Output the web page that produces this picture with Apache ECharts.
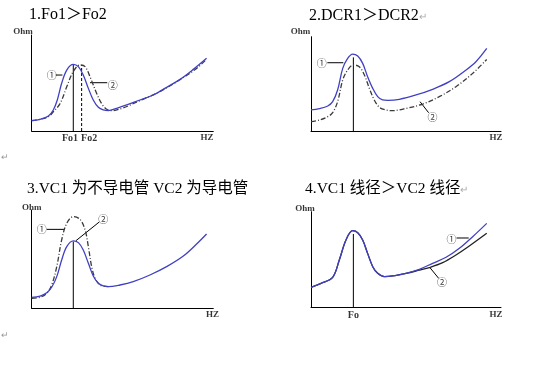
<!DOCTYPE html>
<html>
<head>
<meta charset="utf-8">
<script src="https://cdn.jsdelivr.net/npm/echarts@6/dist/echarts.min.js"></script>
<style>html,body{margin:0;padding:0;background:#fff}#c{width:533px;height:384px}</style>
</head>
<body>
<div id="c"></div>
<script>
// ---------- data (schematic units: x 0..100, y 0..100) ----------
const titles = ['1.Fo1＞Fo2', '2.DCR1＞DCR2', '3.VC1 为不导电管 VC2 为导电管', '4.VC1 线径＞VC2 线径'];

// Panel 1
const p1Curve1 = [[0,10.8],[4.6,12.2],[9.2,15.6],[11.9,21.9],[14.1,32.3],[16.5,49.7],[19.3,63.5],[22.9,69.4],[25.7,67.0],[28.4,58.3],[31.2,44.4],[33.9,32.3],[36.7,24.7],[39.4,21.9],[42.2,21.2],[46.8,23.6],[52.3,27.1],[59.6,32.3],[67.0,37.5],[74.3,45.5],[81.7,53.8],[89.0,64.2],[96.3,75.7]];
const p1Curve2 = [[0,10.8],[4.6,12.2],[9.2,15.0],[11.9,20.0],[15.6,28.5],[19.3,46.0],[22.9,62.0],[26.6,68.8],[29.4,67.0],[32.1,56.6],[35.8,39.0],[38.5,28.5],[41.3,22.6],[44.0,21.2],[50.0,23.8],[60.0,32.0],[70.0,40.5],[80.0,51.5],[90.0,64.0],[96.3,74.7]];
const p1Fo1 = [[22.9,0],[22.9,68.8]];
const p1Fo2 = [[27.5,0],[27.5,68.8]];
const p1Lead1 = [[13.2,58.3],[16.9,58.3]];
const p1Lead2 = [[32.1,50.3],[41.6,50.3]];
const p1Axis = [{name:'Ohm', value:[-4.8,103]}, {name:'HZ', value:[96.5,-7.3]}];
const p1Ticks = [{name:'Fo1', value:[21.1,-7.3]}, {name:'Fo2', value:[31.6,-7.3]}];
const p1Marks = [{name:'①', value:[11.0,58.3]}, {name:'②', value:[44.6,48.0]}];

// Panel 2
const p2Curve1 = [[0,22.3],[4.4,23.7],[8.8,26.5],[11.4,31.1],[14.0,43.5],[16.7,66.4],[19.3,77.0],[21.9,81.6],[24.6,79.5],[27.2,71.7],[29.8,57.6],[32.5,45.2],[35.1,36.4],[37.7,32.9],[40.4,32.5],[46.5,33.6],[55.3,38.2],[64.0,44.2],[72.8,52.3],[81.6,64.7],[86.8,73.5],[92.5,87.6]];
const p2Curve2 = [[0,9.9],[4.4,11.7],[8.8,15.2],[11.4,19.4],[14.0,31.1],[16.7,54.1],[19.3,64.7],[22.3,70.0],[25.4,68.2],[28.1,59.4],[30.7,45.2],[33.3,32.9],[36.0,25.1],[39.5,22.3],[43.0,21.6],[50.0,24.0],[58.8,28.6],[67.5,36.4],[76.3,47.0],[85.1,61.1],[92.5,75.9]];
const p2Fo = [[22.3,0],[22.3,78.1]];
const p2Lead1 = [[8.6,72.4],[17.0,72.4]];
const p2Lead2 = [[61.9,19.4],[57.4,31.1]];
const p2Axis = [{name:'Ohm', value:[-5.5,105]}, {name:'HZ', value:[97.4,-7.4]}];
const p2Ticks = [];
const p2Marks = [{name:'①', value:[5.6,72.4]}, {name:'②', value:[64.0,14.5]}];

// Panel 3
const p3Curve2 = [[0,11.2],[4.6,12.5],[8.3,15.9],[11.0,21.4],[13.8,32.2],[16.5,49.2],[19.3,62.7],[22.9,68.5],[25.7,66.8],[28.4,59.3],[31.2,45.8],[33.9,32.9],[36.7,25.4],[39.4,22.7],[42.2,22.0],[48.6,23.7],[55.9,27.1],[65.1,33.9],[74.3,42.4],[83.5,53.2],[90.8,65.4],[96.3,75.6]];
const p3Curve1 = [[0,10.2],[4.6,11.2],[8.3,15.3],[11.0,23.7],[13.8,42.4],[16.5,69.5],[19.3,86.4],[22.9,93.2],[26.6,90.5],[29.4,79.7],[31.2,62.7],[33.0,42.4],[34.9,30.5],[37.6,23.7],[39.4,22.7],[42.2,22.0]];
const p3Fo = [[22.9,0],[22.9,67.8]];
const p3Lead1 = [[8.3,80.3],[18.3,80.3]];
const p3Lead2 = [[37.2,87.8],[24.4,68.8]];
const p3Axis = [{name:'Ohm', value:[0,102.3]}, {name:'HZ', value:[99.6,-6.8]}];
const p3Ticks = [];
const p3Marks = [{name:'①', value:[5.5,80.3]}, {name:'②', value:[39.4,90.5]}];

// Panel 4
const p4Curve1 = [[0,20.9],[5.3,25.1],[11.4,31.4],[14.9,49.5],[18.4,70.4],[21.9,80.1],[24.6,78.0],[27.2,70.4],[29.8,56.4],[32.5,42.5],[35.1,35.5],[38.6,32.1],[43.0,32.8],[50.0,35.5],[57.0,39.7],[64.0,46.0],[71.1,52.3],[78.1,61.7],[85.1,73.9],[92.5,87.8]];
const p4Curve2 = [[0,20.9],[5.3,25.1],[11.4,31.4],[14.9,49.5],[18.4,70.4],[21.9,80.1],[24.6,78.0],[27.2,70.4],[29.8,56.4],[32.5,42.5],[35.1,35.5],[38.6,32.1],[43.0,32.8],[50.0,35.5],[57.0,38.9],[62.3,41.6],[69.3,46.7],[76.3,54.7],[83.3,64.1],[92.5,77.4]];
const p4Fo = [[22.3,0],[22.3,76.7]];
const p4Lead1 = [[76.6,72.5],[83.0,72.5]];
const p4Lead2 = [[67.2,30.3],[62.6,41.5]];
const p4Axis = [{name:'Ohm', value:[-3.2,103.6]}, {name:'HZ', value:[97.4,-8]}];
const p4Ticks = [{name:'Fo', value:[22.3,-8]}];
const p4Marks = [{name:'①', value:[74.0,71.1]}, {name:'②', value:[69.0,25.8]}];

// ---------- chart ----------
const BLUE = '#4040c4';
const DARK = '#3a3a3a';
const LATIN = "'Liberation Serif','Noto Sans CJK SC',serif";

const grids = [
  {left:31.7, top:35, width:181.6, height:96},
  {left:311, top:36.7, width:190, height:94.3},
  {left:31.7, top:210, width:181.6, height:98.3},
  {left:311, top:211.7, width:190, height:95.6}
];

function axisCfg(i){
  return {gridIndex:i, type:'value', min:0, max:100,
    axisLine:{show:true, onZero:false, lineStyle:{color:'#000', width:1}},
    axisTick:{show:false}, axisLabel:{show:false}, splitLine:{show:false}};
}
function line(i, data, color, type, width, smooth, z){
  return {type:'line', xAxisIndex:i, yAxisIndex:i, data:data, smooth:smooth,
    symbol:'none', clip:false, z:z||2, silent:true,
    lineStyle:{color:color, width:width, type:type}};
}
function texts(i, items, size, family, weight){
  return {type:'scatter', xAxisIndex:i, yAxisIndex:i, data:items, symbolSize:1,
    clip:false, silent:true, itemStyle:{color:'rgba(0,0,0,0)'}, z:5,
    label:{show:true, position:'inside', formatter:'{b}', color:'#000',
      fontSize:size, fontFamily:family, fontWeight:weight||'normal',
      align:'center', verticalAlign:'middle'}};
}

const series = [];
const panels = [
  {c:[[p1Curve2, DARK, [5,2,1,2]], [p1Curve1, BLUE, 'solid']], v:[[p1Fo1,'solid'],[p1Fo2,[3,2]]], l:[p1Lead1,p1Lead2], a:p1Axis, t:p1Ticks, m:p1Marks},
  {c:[[p2Curve2, DARK, [5,2,1,2]], [p2Curve1, BLUE, 'solid']], v:[[p2Fo,'solid']], l:[p2Lead1,p2Lead2], a:p2Axis, t:p2Ticks, m:p2Marks},
  {c:[[p3Curve1, DARK, [5,2,1,2]], [p3Curve2, BLUE, 'solid']], v:[[p3Fo,'solid']], l:[p3Lead1,p3Lead2], a:p3Axis, t:p3Ticks, m:p3Marks},
  {c:[[p4Curve2, '#222', 'solid'], [p4Curve1, BLUE, 'solid']], v:[[p4Fo,'solid']], l:[p4Lead1,p4Lead2], a:p4Axis, t:p4Ticks, m:p4Marks}
];
panels.forEach((p, i) => {
  p.c.forEach(c => series.push(line(i, c[0], c[1], c[2], 1.3, 0.35, 3)));
  p.v.forEach(v => series.push(line(i, v[0], '#000', v[1], 1, false, 2)));
  p.l.forEach(l => series.push(line(i, l, '#000', 'solid', 1, false, 2)));
  series.push(texts(i, p.a, 9, LATIN, 'bold'));
  if (p.t.length) series.push(texts(i, p.t, 10, LATIN, 'bold'));
  series.push(texts(i, p.m, 10, "'Noto Sans CJK SC',sans-serif"));
});

const titlePos = [[29,7],[309,8],[27,181],[305,181]];
const titleSize = [16, 16, 15.5, 15.5];
const title = titles.map((t, i) => ({
  text: (i === 1 || i === 3) ? t + '{g|↵}' : t,
  left: titlePos[i][0], top: titlePos[i][1], padding:0,
  textStyle:{fontSize:titleSize[i], fontWeight:'normal', color:'#000', fontFamily:LATIN,
    rich:{g:{fontSize:10, color:'#aaa', fontFamily:"'Noto Sans CJK SC',sans-serif"}}}
}));

const chart = echarts.init(document.getElementById('c'), null, {renderer:'canvas'});
chart.setOption({
  animation:false,
  backgroundColor:'#fff',
  title: title,
  grid: grids,
  xAxis: grids.map((g, i) => axisCfg(i)),
  yAxis: grids.map((g, i) => axisCfg(i)),
  series: series,
  graphic: [
    {type:'text', left:1, top:153, style:{text:'↵', fontSize:9, fill:'#999'}},
    {type:'text', left:1, top:331, style:{text:'↵', fontSize:9, fill:'#999'}}
  ]
});
</script>
</body>
</html>
